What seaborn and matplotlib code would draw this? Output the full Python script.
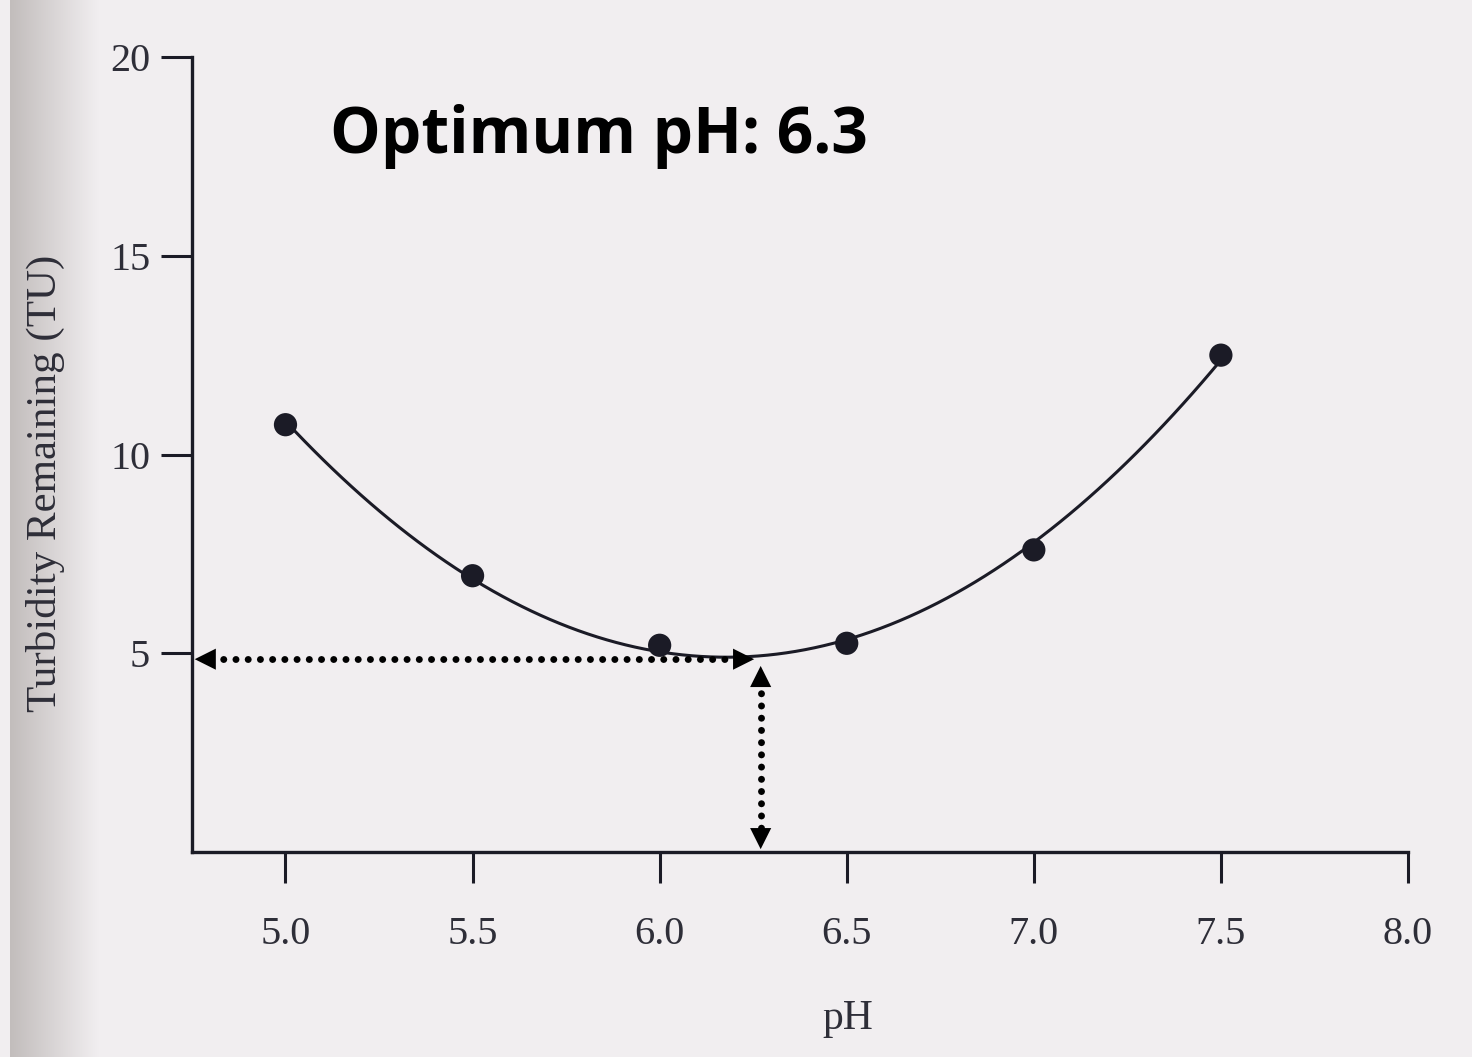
import numpy as np
import pandas as pd
import seaborn as sns
import matplotlib.pyplot as plt

# Data
ph = [5.0, 5.5, 6.0, 6.5, 7.0, 7.5]
turbidity = [10.75, 6.95, 5.2, 5.25, 7.6, 12.5]
x_ticks = [5.0, 5.5, 6.0, 6.5, 7.0, 7.5, 8.0]
y_ticks = [5, 10, 15, 20]
opt_ph = 6.27
opt_turb = 4.85

df = pd.DataFrame({'pH': ph, 'Turbidity': turbidity})

sns.set_style('ticks')
plt.rcParams['font.family'] = ['Liberation Serif', 'DejaVu Serif']

paper = '#f1eef0'
ink = '#1b1b26'
label_col = '#2e2e38'

fig = plt.figure(figsize=(14.72, 10.57), dpi=100, facecolor=paper)

# faint shadow of the scanner at the left edge
shade = fig.add_axes([0.007, 0, 0.06, 1])
grad = np.linspace(0, 1, 100).reshape(1, -1)
shade.imshow(grad, aspect='auto', cmap=sns.blend_palette(['#c2bdbc', paper], as_cmap=True))
shade.axis('off')

ax = fig.add_axes([0.1304, 0.194, 0.8261, 0.752])
ax.set_facecolor('none')

# fitted curve and measured points
sns.regplot(data=df, x='pH', y='Turbidity', order=2, ci=None, ax=ax,
            scatter_kws=dict(s=280, color=ink, alpha=1, edgecolor='none', zorder=3),
            line_kws=dict(color=ink, lw=2.2))

# dotted guide lines to the optimum
dots = dict(color='black', lw=5, linestyle=(0, (0.01, 1.75)), dash_capstyle='round')
ax.plot([4.80, opt_ph - 0.05], [opt_turb, opt_turb], **dots)
ax.plot([opt_ph, opt_ph], [opt_turb - 0.55, 0.5], **dots)
head = dict(arrowstyle='-|>', mutation_scale=38, color='black', lw=0)
ax.annotate('', xy=(4.75, opt_turb), xytext=(4.9, opt_turb), arrowprops=head)
ax.annotate('', xy=(opt_ph - 0.01, opt_turb), xytext=(opt_ph - 0.15, opt_turb), arrowprops=head)
ax.annotate('', xy=(opt_ph, opt_turb - 0.1), xytext=(opt_ph, opt_turb - 0.8), arrowprops=head)
ax.annotate('', xy=(opt_ph, 0.0), xytext=(opt_ph, 0.8), arrowprops=head)

ax.text(5.12, 18.0, 'Optimum pH: 6.3', fontsize=46, fontweight='bold',
        family=['Open Sans', 'DejaVu Sans'], color='black', va='center', ha='left')

ax.set_xlim(4.75, 8.0)
ax.set_ylim(0, 20)
ax.set_xticks(x_ticks)
ax.set_xticklabels([f'{v:.1f}' for v in x_ticks])
ax.set_yticks(y_ticks)

ax.set_xlabel('pH', fontsize=30, color=label_col)
ax.xaxis.set_label_coords(0.539, -0.186)
ax.set_ylabel('Turbidity Remaining (TU)', fontsize=31, color=label_col)
ax.yaxis.set_label_coords(-0.104, 0.464)
ax.tick_params(axis='both', labelsize=29, labelcolor=label_col, colors=ink,
               length=22, width=2.2)
ax.tick_params(axis='x', pad=24)
ax.tick_params(axis='y', pad=8)

sns.despine(ax=ax)
for side in ['left', 'bottom']:
    ax.spines[side].set_linewidth(2.4)
    ax.spines[side].set_color(ink)

plt.savefig('out.png', dpi=100, facecolor=paper)
